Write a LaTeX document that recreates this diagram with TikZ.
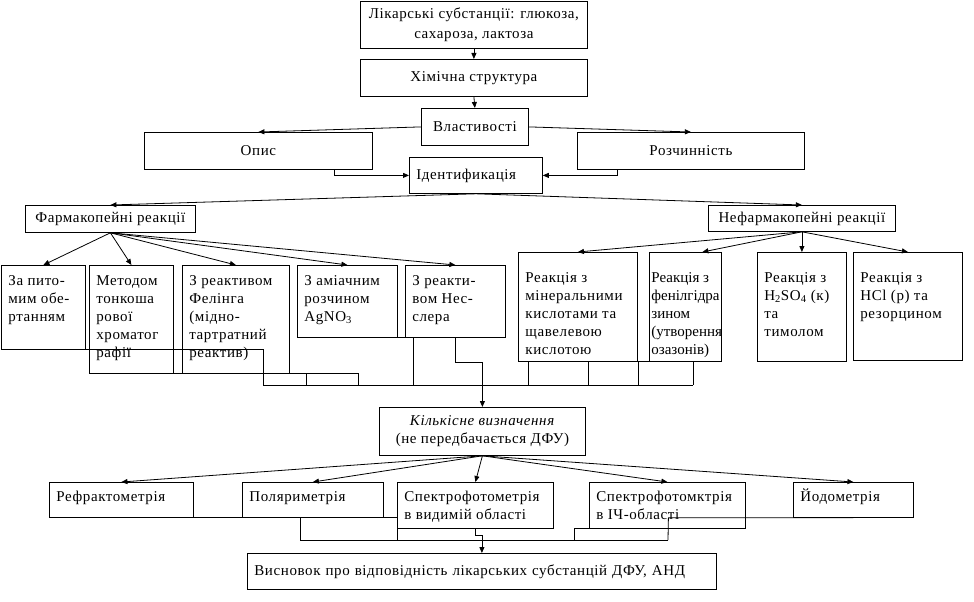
\documentclass[tikz,border=0pt]{standalone}
\usepackage{fontspec}
\setmainfont{Liberation Serif}[LetterSpace=4]
\usetikzlibrary{arrows.meta}
\newcommand{\cellbox}[4][20pt]{\parbox[c][#3][t]{#2}{\raggedright\leftskip=7pt\rule{0pt}{#1}#4}}

\begin{document}
\begin{tikzpicture}[x=1pt, y=-1pt, line width=0.8pt,
  font=\fontsize{15}{18}\selectfont,
  >={Triangle[length=6pt,width=5pt]},
  box/.style={draw, anchor=north west, align=center, inner sep=0pt},
  cell/.style={draw, anchor=north west, inner sep=0pt}]
\useasboundingbox (0,0) rectangle (974,602);

% top part
\node[box, minimum width=227pt, minimum height=47pt] (subst) at (360,1) {Лікарські субстанції: глюкоза,\\[2pt] сахароза, лактоза};
\node[box, minimum width=227pt, minimum height=37pt] (chem) at (360,59) {Хімічна структура};
\node[box, minimum width=107pt, minimum height=37pt] (prop) at (421,108) {Властивості};
\node[box, minimum width=228pt, minimum height=37pt] (opys) at (144,132) {Опис};
\node[box, minimum width=227pt, minimum height=37pt] (rozch) at (577,132) {Розчинність};
\node[box, align=left, text width=119pt, inner xsep=7pt, minimum height=36pt] (ident) at (409,157) {Ідентификація};
\node[box, minimum width=170pt, minimum height=27pt] (pharm) at (25,205) {Фармакопейні реакції};
\node[box, minimum width=187pt, minimum height=26pt] (nonph) at (708,205) {Нефармакопейні реакції};

% pharmacopoeial reactions
\node[cell] (za) at (1,265) {\cellbox{84pt}{84pt}{За пито-\\мим обе-\\ртанням}};
\node[cell] (tlc) at (89,265) {\cellbox{84pt}{108pt}{Методом\\тонкоша\\рової\\хроматог\\рафії}};
\node[cell] (feh) at (182,265) {\cellbox{107pt}{108pt}{З реактивом\\Фелінга\\(мідно-\\тартратний\\реактив)}};
\node[cell] (agn) at (297,265) {\cellbox{100pt}{72pt}{З аміачним\\розчином\\AgNO\textsubscript{3}}};
\node[cell] (nes) at (405,265) {\cellbox{100pt}{72pt}{З реакти-\\вом Нес-\\слера}};

% non-pharmacopoeial reactions
\node[cell] (mineral) at (518,252) {\cellbox[30pt]{119pt}{109pt}{Реакція з\\мінеральними\\кислотами та\\щавелевою\\кислотою}};
\node[cell] (phenyl) at (649,252) {\cellbox[30pt]{72pt}{109pt}{\addfontfeatures{LetterSpace=0}\leftskip=2pt Реакція з\\фенілгідра\\зином\\(утворення\\озазонів)}};
\node[cell] (thymol) at (757,252) {\cellbox[30pt]{89pt}{109pt}{Реакція з\\H\textsubscript{2}SO\textsubscript{4} (к)\\та\\тимолом}};
\node[cell] (resorc) at (853,252) {\cellbox[30pt]{109pt}{108pt}{Реакція з\\HCl (р) та\\резорцином}};

% quantitative part
\node[box, minimum width=206pt, minimum height=48pt] (kil) at (379,407) {\textit{Кількісне визначення}\\(не передбачається ДФУ)};
\node[cell] (refr) at (49,482) {\cellbox[19pt]{144pt}{35pt}{Рефрактометрія}};
\node[cell] (pol) at (242,482) {\cellbox[19pt]{141pt}{35pt}{Поляриметрія}};
\node[cell] (vis) at (397,482) {\cellbox[19pt]{156pt}{46pt}{Спектрофотометрія\\в видимій області}};
\node[cell] (ir) at (589,482) {\cellbox[19pt]{156pt}{46pt}{Спектрофотомктрія\\в ІЧ-області}};
\node[cell] (iod) at (793,482) {\cellbox[19pt]{120pt}{35pt}{Йодометрія}};
\node[box, align=left, text width=455pt, inner xsep=7pt, minimum height=36pt] (concl) at (247,553) {Висновок про відповідність лікарських субстанцій ДФУ, АНД};

\draw[->] (subst.south) -- (chem.north);
\draw[->] (chem.south) -- (prop.north);
\draw[->] (prop.west) -- (opys.north);
\draw[->] (prop.east) -- (rozch.north);
\draw[->] ([xshift=-38pt]opys.south east) |- (ident.west);
\draw[->] ([xshift=40pt]rozch.south west) |- (ident.east);
\draw[->] (ident.south) -- (pharm.north);
\draw[->] (ident.south) -- (nonph.north);

\foreach \n in {za,tlc,feh,agn,nes} \draw[->] (pharm.south) -- (\n.north);
\foreach \n in {mineral,thymol,resorc} \draw[->] (nonph.south) -- (\n.north);
\draw[->] (nonph.south) -- ([xshift=17pt]phenyl.north);

% lines gathered to the quantitative part
\coordinate (busL) at (263,385);
\coordinate (busR) at (693,385);
\draw (za.south) -| (busL) -- (busR);
\draw (tlc.south) -| (358,385);
\draw (306,373) -- (306,385);
\draw (agn.south east) -| (413,385);
\draw (528,361) -- (693,361);
\foreach \x in {528,588,638,693} \draw (\x,361) -- (\x,385);
\draw[->] (nes.south) -- ++(0,25) -| (kil.north);

\foreach \n in {refr,pol,vis,ir,iod} \draw[->] (kil.south) -- (\n.north);

\draw (refr.south) -- (vis.west |- refr.south);
\draw (300,517) -- (300,540) -- (668,540);
\draw (vis.south west) -- (397,540);
\draw[->] (vis.south) -- ++(0,7) -| (concl.north);
\draw (ir.south) -- ++(-93,0) -- ++(0,12);
\draw (iod.south) -- ++(-185,0) -- (668,540);
\end{tikzpicture}
\end{document}
